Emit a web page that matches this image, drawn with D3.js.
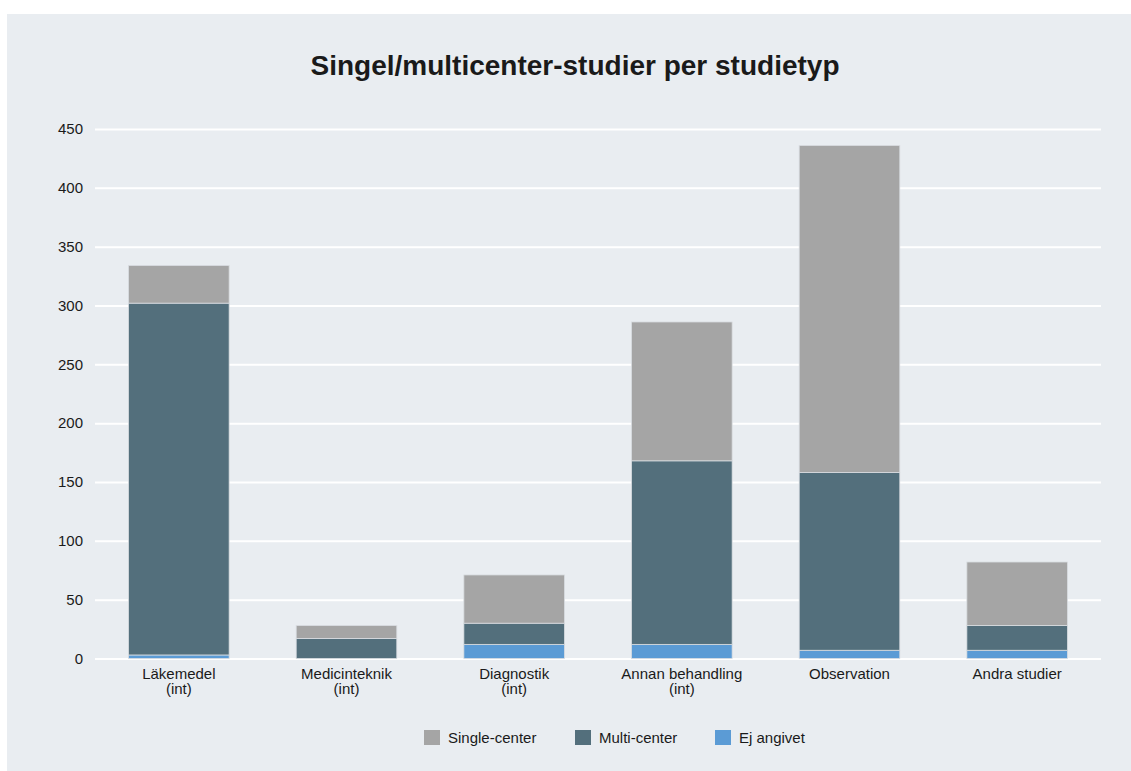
<!DOCTYPE html>
<html>
    <head>
        <meta charset="utf-8">
        <style>
        body {
            margin: 0;
            background: #ffffff;
            font-family: "Liberation Sans", Arial, sans-serif;
        }

        svg {
            display: block;
        }

        .y .tick line {
            stroke: #ffffff;
            stroke-width: 2;
        }

        .y .domain, .x .domain {
            display: none;
        }

        .x .tick line {
            display: none;
        }

        .tick text {
            font-family: "Liberation Sans", Arial, sans-serif;
            font-size: 15px;
            fill: #1a1a1a;
        }
        </style>
    </head>
    <body>
        <div id="plot1"></div>
        <script src="https://d3js.org/d3.v7.min.js"></script>
        <script>

            // studietyper (second line after the break)
            let categories = ["Läkemedel|(int)", "Medicinteknik|(int)", "Diagnostik|(int)", "Annan behandling|(int)", "Observation", "Andra studier"]
            let ejAngivet = [3, 0, 12, 12, 7, 7]
            let multiCenter = [299, 17, 18, 156, 151, 21]
            let singleCenter = [32, 11, 41, 118, 278, 54]
            let yTicks = [0, 50, 100, 150, 200, 250, 300, 350, 400, 450]

            let seriesKeys = ["ej", "multi", "single"]
            let seriesNames = {single: "Single-center", multi: "Multi-center", ej: "Ej angivet"}
            let colors = {single: "#a5a5a5", multi: "#536f7c", ej: "#5b9bd5"}

            let width = 1131
            let height = 771
            let margin = {top: 129, right: 30, bottom: 112, left: 95}

            let data = categories.map((c, i) => ({
                category: c,
                ej: ejAngivet[i],
                multi: multiCenter[i],
                single: singleCenter[i]
            }))

            let svg = d3.select("#plot1")
                .append("svg")
                .attr("width", width)
                .attr("height", height)

            // grey panel
            svg.append("rect")
                .attr("x", 7)
                .attr("y", 14)
                .attr("width", width - 7)
                .attr("height", height - 14)
                .attr("fill", "#e9edf1")

            svg.append("text")
                .attr("x", 575)
                .attr("y", 75)
                .attr("text-anchor", "middle")
                .style("font-size", "28px")
                .style("font-weight", "bold")
                .style("fill", "#1a1a1a")
                .text("Singel/multicenter-studier per studietyp")

            let x = d3.scaleBand()
                .domain(categories)
                .range([margin.left, width - margin.right])
                .paddingInner(0.4)
                .paddingOuter(0.2)

            let y = d3.scaleLinear()
                .domain([0, 450])
                .range([height - margin.bottom - 0.5, margin.top])

            let yAxisSettings = d3.axisLeft(y)
                .tickValues(yTicks)
                .tickSize(0 - (width - margin.left - margin.right))
                .tickPadding(12)

            svg.append("g")
                .attr("class", "y axis")
                .attr("transform", `translate(${margin.left}, 0)`)
                .call(yAxisSettings)

            let xAxisTicks = svg.append("g")
                .attr("class", "x axis")
                .attr("transform", `translate(0, ${height - margin.bottom})`)
                .call(d3.axisBottom(x).tickSize(0).tickPadding(9).tickFormat(""))

            xAxisTicks.selectAll(".tick text")
                .each(function (d) {
                    let parts = d.split("|")
                    let t = d3.select(this)
                    parts.forEach((p, i) => {
                        t.append("tspan")
                            .attr("x", 0)
                            .attr("dy", i === 0 ? "0.71em" : "1.0em")
                            .text(p)
                    })
                })
                .attr("dy", null)

            let stacked = d3.stack().keys(seriesKeys)(data)

            svg.append("g")
                .attr("class", "bars")
                .selectAll("g")
                .data(stacked)
                .join("g")
                .attr("fill", s => colors[s.key])
                .selectAll("rect")
                .data(s => s.filter(d => d[1] > d[0]))
                .join("rect")
                .attr("x", d => x(d.data.category))
                .attr("width", x.bandwidth())
                .attr("y", d => y(d[1]))
                .attr("height", d => y(d[0]) - y(d[1]))
                .attr("stroke", "#d9dde1")
                .attr("stroke-width", 0.8)

            // legend
            let legendKeys = ["single", "multi", "ej"]
            let legendX = [424, 575, 715]
            let legend = svg.append("g")
                .attr("class", "legend")
                .selectAll("g")
                .data(legendKeys)
                .join("g")
                .attr("transform", (d, i) => `translate(${legendX[i]}, 730)`)

            legend.append("rect")
                .attr("width", 16)
                .attr("height", 15)
                .attr("fill", d => colors[d])

            legend.append("text")
                .attr("x", 24)
                .attr("y", 13)
                .style("font-size", "15px")
                .style("fill", "#1a1a1a")
                .text(d => seriesNames[d])

        </script>
    </body>
</html>
